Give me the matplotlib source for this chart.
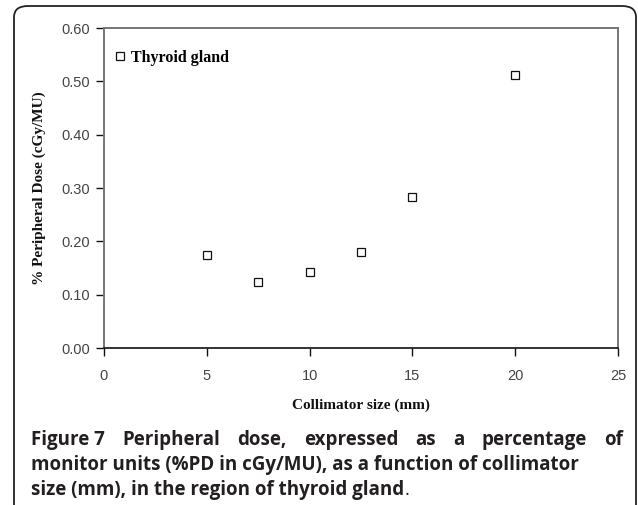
import matplotlib.pyplot as plt
from matplotlib.patches import FancyBboxPatch

# data
collimator_mm = [5, 7.5, 10, 12.5, 15, 20]
pd_cgy_mu = [0.174, 0.124, 0.142, 0.180, 0.283, 0.512]
x_ticks = [0, 5, 10, 15, 20, 25]
y_ticks = [0.0, 0.1, 0.2, 0.3, 0.4, 0.5, 0.6]

caption_lines = [
    ["Figure 7", "Peripheral", "dose,", "expressed", "as", "a", "percentage", "of"],
    "monitor units (%PD in cGy/MU), as a function of collimator",
    "size (mm), in the region of thyroid gland",
]

W, H = 638, 505
fig = plt.figure(figsize=(W / 100, H / 100), dpi=100)

def px(x, y):
    # pixel (from top-left) -> figure fraction
    return x / W, 1 - y / H

# rounded outer frame, open at the bottom
frame = FancyBboxPatch(px(14, 530), (636 - 14) / W, (530 - 6) / H,
                       boxstyle="round,pad=0,rounding_size=0.022",
                       transform=fig.transFigure, fill=False,
                       edgecolor="#222222", linewidth=1.3, clip_on=True)
fig.patches.append(frame)

ax = fig.add_axes([104 / W, 1 - 348 / H, (618 - 104) / W, (348 - 28) / H])
ax.plot(collimator_mm, pd_cgy_mu, linestyle="none", marker="s", markersize=6,
        markerfacecolor="white", markeredgecolor="#111111", markeredgewidth=0.9,
        label="Thyroid gland")

ax.set_xlim(0, 25)
ax.set_ylim(0, 0.6)
ax.set_xticks(x_ticks)
ax.set_yticks(y_ticks)
ax.set_yticklabels([f"{v:.2f}" for v in y_ticks])
ax.tick_params(direction="out", length=6, width=1, color="#111111",
               labelsize=10.5, labelcolor="#444444")
ax.tick_params(axis="y", pad=4)
ax.tick_params(axis="x", pad=9)
for lab in ax.get_xticklabels() + ax.get_yticklabels():
    lab.set_family("Liberation Sans")

for side in ["top", "right", "left"]:
    ax.spines[side].set_color("#777777")
    ax.spines[side].set_linewidth(1.4)
ax.spines["bottom"].set_color("#111111")
ax.spines["bottom"].set_linewidth(1.2)

ax.set_xlabel("Collimator size (mm)", family="Liberation Serif", weight="bold",
              fontsize=11, color="#111111", labelpad=11)
ax.set_ylabel("% Peripheral Dose (cGy/MU)", family="Liberation Serif", weight="bold",
              fontsize=11, color="#111111", labelpad=11)

leg = ax.legend(loc="upper left", frameon=False, handlelength=0.6, handletextpad=0.4,
                bbox_to_anchor=(-0.006, 0.976),
                prop={"family": "Liberation Serif", "weight": "bold", "size": 11.5})

# caption, first line justified
cap_font = dict(family="Open Sans", weight="bold", fontsize=13.5, color="#231f20")
left, right = 31, 623
fig.canvas.draw()
renderer = fig.canvas.get_renderer()
words = caption_lines[0]
texts = [fig.text(0, 0, w, va="baseline", ha="left", **cap_font) for w in words]
widths = [t.get_window_extent(renderer).width for t in texts]
gap = (right - left - sum(widths)) / (len(words) - 1)
x = left
for t, w in zip(texts, widths):
    t.set_position(px(x, 445))
    x += w + gap

fig.text(*px(left, 470), caption_lines[1], va="baseline", ha="left", **cap_font)
t3 = fig.text(*px(left, 495), caption_lines[2], va="baseline", ha="left", **cap_font)
ext = t3.get_window_extent(renderer)
fig.text(*px(left + ext.width, 495), ".", va="baseline", ha="left",
         family="Open Sans", fontsize=13.5, color="#231f20")

fig.savefig("out.png", dpi=100)
